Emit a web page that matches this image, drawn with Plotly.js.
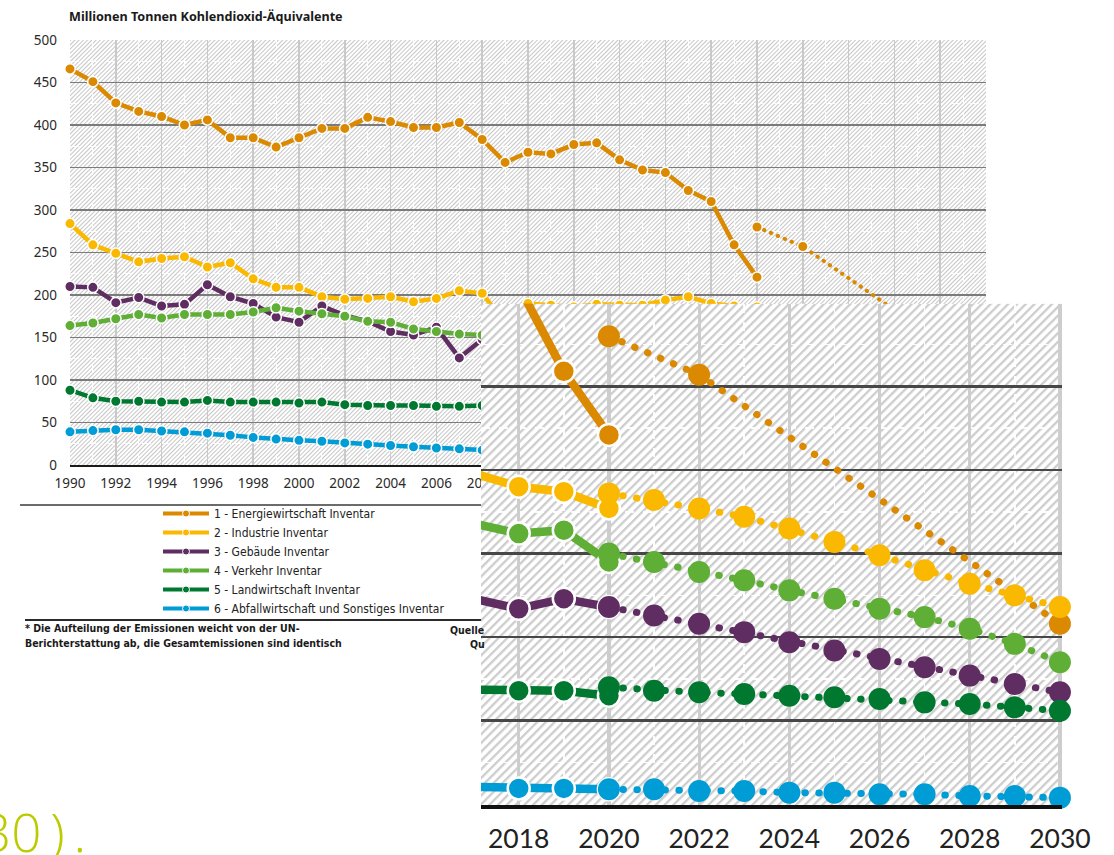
<!DOCTYPE html>
<html>
<head>
<meta charset="utf-8">
<script src="https://cdn.plot.ly/plotly-3.0.1.min.js"></script>
<style>
html,body{margin:0;padding:0;background:#ffffff;}
#chart{width:1114px;height:855px;}
</style>
</head>
<body>
<div id="chart"></div>
<script>
// ---------------- data ----------------
const years = [1990,1991,1992,1993,1994,1995,1996,1997,1998,1999,2000,2001,2002,2003,2004,2005,2006,2007,2008,2009,2010,2011,2012,2013,2014,2015,2016,2017,2018,2019,2020];
const targetYears = [2020,2021,2022,2023,2024,2025,2026,2027,2028,2029,2030];
const energieTargetYears = [2020,2022,2030];

const energie        = [466,451,426,416,410,400,406,385,385,374,385,396,396,409,404,397,397,403,383,356,368,366,377,379,359,347,344,323,310,259,221];
const industrie      = [284,259,249,239,243,245,233,238,219,209,209,198,195,196,198,192,196,205,202,167,190,188,186,189,188,188,194,198,190,187,177];
const gebaeude       = [210,209,191,197,187,189,212,198,190,174,168,187,176,169,157,153,162,126,148,140,148,128,134,140,118,122,124,123,117,123,118];
const verkehr        = [164,167,172,177,173,177,177,177,180,185,181,178,175,169,168,160,157,154,153,152,153,155,155,160,160,162,166,168,162,164,145];
const landwirtschaft = [88,79,75,75,74,74,76,74,74,74,73,74,71,70,70,70,69,69,70,68,67,67,68,69,70,70,69,69,68,68,65];
const abfall         = [39,40.5,41.5,41.5,40,39,37.5,35,32.5,30.5,29,28,26,24.5,23,21.5,20,19,17.5,16.5,15.5,14.5,13.5,13,12,11.5,11,10.5,9.5,9.5,9];

const energieZiel        = [280,257,108];
const industrieZiel      = [186,182,177,172,165,157,149,140,132,125,118];
const gebaeudeZiel       = [118,113,108,103,97,92,87,82,77,72,67];
const verkehrZiel        = [150,145,139,134,128,123,117,112,105,96,85];
const landwirtschaftZiel = [70,68,67,66,65,64,63,61,60,58,56];
const abfallZiel         = [9,9,8,8,7,7,6,6,5,5,4];

const seriesNames = [
  '1 - Energiewirtschaft Inventar',
  '2 - Industrie Inventar',
  '3 - Gebäude Inventar',
  '4 - Verkehr Inventar',
  '5 - Landwirtschaft Inventar',
  '6 - Abfallwirtschaft und Sonstiges Inventar'
];
const colors = ['#da8900','#fbb800','#5f2d61','#5fae36','#00782f','#009cd6'];

const inventories = [energie, industrie, gebaeude, verkehr, landwirtschaft, abfall];
const targets = [energieZiel, industrieZiel, gebaeudeZiel, verkehrZiel, landwirtschaftZiel, abfallZiel];
const targetX = [energieTargetYears, targetYears, targetYears, targetYears, targetYears, targetYears];

const mainTickFont = 'Noto Sans, Open Sans, sans-serif';
const narrowFont = 'Liberation Sans Narrow, DejaVu Sans Condensed, Noto Sans, sans-serif';

// ---------------- geometry ----------------
const W = 1114, H = 855;
const fx = p => p / W;
const fy = p => 1 - p / H;

function hatch(w, h, gap, color, sw) {
  const svg = "<svg xmlns='http://www.w3.org/2000/svg' width='" + w + "' height='" + h +
    "' viewBox='0 0 " + w + " " + h + "' preserveAspectRatio='none'><defs><pattern id='p' width='" + gap +
    "' height='" + gap + "' patternUnits='userSpaceOnUse' patternTransform='rotate(45)'><rect width='" + gap +
    "' height='" + gap + "' fill='#ffffff'/><rect x='0' y='0' width='" + sw + "' height='" + gap +
    "' fill='" + color + "'/></pattern></defs><rect width='" + w + "' height='" + h + "' fill='url(#p)'/></svg>";
  return 'data:image/svg+xml;charset=utf-8,' + encodeURIComponent(svg);
}

// ---------------- traces ----------------
const data = [];

// legend entries
seriesNames.forEach((n, i) => {
  data.push({
    type: 'scatter', mode: 'lines+markers', x: [null], y: [null], name: n,
    xaxis: 'x', yaxis: 'y', showlegend: true, hoverinfo: 'skip',
    line: {color: colors[i], width: 4},
    marker: {size: 7, color: colors[i], line: {color: '#ffffff', width: 1}}
  });
});

function addSet(xa, ya, lw, ms, mlw, dotW, dotDash, tms, clipInv) {
  const isMain = xa === 'x';
  inventories.forEach((vals, i) => {
    data.push({
      type: 'scatter', mode: 'lines+markers', x: years, y: vals, name: seriesNames[i],
      xaxis: xa, yaxis: ya, showlegend: false, hoverinfo: 'skip', cliponaxis: clipInv,
      line: {color: colors[i], width: lw},
      marker: {size: ms, color: colors[i], line: {color: '#ffffff', width: mlw}}
    });
  });
  targets.forEach((vals, i) => {
    data.push({
      type: 'scatter', mode: 'lines+markers', x: targetX[i], y: vals, name: seriesNames[i] + ' Ziel',
      xaxis: xa, yaxis: ya, showlegend: false, hoverinfo: 'skip', cliponaxis: false,
      line: {color: colors[i], width: dotW, dash: dotDash},
      marker: {size: tms, color: colors[i], line: {color: isMain ? '#ffffff' : colors[i], width: isMain ? mlw : 0}}
    });
  });
}
addSet('x', 'y', 4.5, 10.5, 1.5, 4, '0.5px,7px', 10.5, false);
addSet('x2', 'y2', 8.5, 22, 2.5, 7, '0.5px,13.5px', 22, true);

// ---------------- layout ----------------
const layout = {
  width: W, height: H,
  margin: {l: 0, r: 0, t: 0, b: 0, pad: 0},
  paper_bgcolor: '#ffffff',
  plot_bgcolor: 'rgba(0,0,0,0)',
  showlegend: true,
  hovermode: false,
  xaxis: {
    domain: [fx(70), fx(986)], anchor: 'y', range: [1990, 2030],
    tick0: 1990, dtick: 2, ticks: '', showgrid: true, gridcolor: '#c9c9c9', gridwidth: 1.6,
    minor: {tick0: 1990, dtick: 1, showgrid: true, gridcolor: 'rgba(255,255,255,0.9)', gridwidth: 1, griddash: 'dash'},
    zeroline: false, showline: true, linecolor: '#1a1a1a', linewidth: 2,
    tickfont: {family: mainTickFont, size: 13.5, color: '#2a2a2a'}, ticklabelstandoff: 5,
    fixedrange: true
  },
  yaxis: {
    domain: [fy(465), fy(40)], anchor: 'x', range: [0, 500],
    tick0: 0, dtick: 50, ticks: '', showgrid: true, gridcolor: '#7b7b7b', gridwidth: 1.6,
    minor: {tick0: 0, dtick: 25, showgrid: true, gridcolor: 'rgba(255,255,255,0.9)', gridwidth: 1, griddash: 'dash'},
    zeroline: false, showline: false,
    tickfont: {family: mainTickFont, size: 13.5, color: '#2a2a2a'}, ticklabelstandoff: 12,
    fixedrange: true
  },
  xaxis2: {
    domain: [fx(481), fx(1062)], anchor: 'y2', range: [2017.164, 2030.046],
    tick0: 2018, dtick: 2, ticks: '', showgrid: true, gridcolor: '#cdcdcd', gridwidth: 3.2,
    minor: {tick0: 2018, dtick: 1, showgrid: true, gridcolor: 'rgba(255,255,255,0.9)', gridwidth: 1.5, griddash: 'dash'},
    zeroline: false, showline: true, linecolor: '#111111', linewidth: 3.5,
    tickfont: {family: 'Lato, Open Sans, sans-serif', size: 26.5, color: '#222222'}, ticklabelstandoff: 8,
    fixedrange: true
  },
  yaxis2: {
    domain: [fy(805), fy(303.5)], anchor: 'x2', range: [-0.4, 299.6],
    tick0: 0, dtick: 50, ticks: '', showgrid: true, gridcolor: '#474747', gridwidth: 2.6,
    minor: {tick0: 0, dtick: 25, showgrid: true, gridcolor: 'rgba(255,255,255,0.9)', gridwidth: 1.5, griddash: 'dash'},
    zeroline: false, showline: false, showticklabels: false,
    fixedrange: true
  },
  legend: {
    x: fx(158), y: fy(499), xanchor: 'left', yanchor: 'top',
    bgcolor: 'rgba(0,0,0,0)', borderwidth: 0, tracegroupgap: 0, itemwidth: 46,
    font: {family: narrowFont, size: 12, color: '#222222'},
    itemclick: false, itemdoubleclick: false
  },
  images: [
    {source: hatch(916, 425, 3, '#c6c6c6', 1), xref: 'paper', yref: 'paper',
     x: fx(70), y: fy(40), sizex: 916 / W, sizey: 425 / H, xanchor: 'left', yanchor: 'top',
     sizing: 'stretch', layer: 'below'},
    {source: hatch(581, 502, 6.2, '#cdcdcd', 2.3), xref: 'x2', yref: 'y2',
     x: 2017.164, y: 299.6, sizex: 2030.046 - 2017.164, sizey: 300, xanchor: 'left', yanchor: 'top',
     sizing: 'stretch', layer: 'below'}
  ],
  shapes: [
    {type: 'line', xref: 'paper', yref: 'paper', x0: fx(20), x1: fx(481), y0: fy(505), y1: fy(505),
     line: {color: '#3a3a3a', width: 1.5}, layer: 'below'},
    {type: 'line', xref: 'paper', yref: 'paper', x0: fx(25), x1: fx(481), y0: fy(620), y1: fy(620),
     line: {color: '#2a2a2a', width: 2}, layer: 'below'}
  ],
  annotations: [
    {text: '<b>Millionen Tonnen Kohlendioxid-Äquivalente</b>', xref: 'paper', yref: 'paper',
     x: fx(67), y: fy(16), xanchor: 'left', yanchor: 'middle', showarrow: false,
     font: {family: mainTickFont, size: 12.6, color: '#1a1a1a'}},
    {text: '<b>* Die Aufteilung der Emissionen weicht von der UN-</b>', xref: 'paper', yref: 'paper',
     x: fx(23), y: fy(628), xanchor: 'left', yanchor: 'middle', showarrow: false,
     font: {family: narrowFont, size: 10.5, color: '#1a1a1a'}},
    {text: '<b>Berichterstattung ab, die Gesamtemissionen sind identisch</b>', xref: 'paper', yref: 'paper',
     x: fx(23), y: fy(643), xanchor: 'left', yanchor: 'middle', showarrow: false,
     font: {family: narrowFont, size: 10.5, color: '#1a1a1a'}},
    {text: '<b>Quelle</b>', xref: 'paper', yref: 'paper',
     x: fx(448), y: fy(630), xanchor: 'left', yanchor: 'middle', showarrow: false,
     font: {family: narrowFont, size: 10.5, color: '#1a1a1a'}},
    {text: '<b>Qu</b>', xref: 'paper', yref: 'paper',
     x: fx(468), y: fy(644), xanchor: 'left', yanchor: 'middle', showarrow: false,
     font: {family: narrowFont, size: 10.5, color: '#1a1a1a'}},
    {text: '30\u2009)\u2009.', xref: 'paper', yref: 'paper',
     x: fx(-21), y: fy(831), xanchor: 'left', yanchor: 'middle', showarrow: false,
     font: {family: 'Open Sans, Noto Sans, sans-serif', size: 53, color: '#bccb00', weight: 300}}
  ]
};

Plotly.newPlot('chart', data, layout, {staticPlot: true, displayModeBar: false}).then(gd => {
  gd.querySelectorAll('.scatterlayer .js-line').forEach(p => {
    const d = p.style.strokeDasharray;
    if (d && d !== 'none' && d !== '') p.style.strokeLinecap = 'round';
  });
});
</script>
</body>
</html>
